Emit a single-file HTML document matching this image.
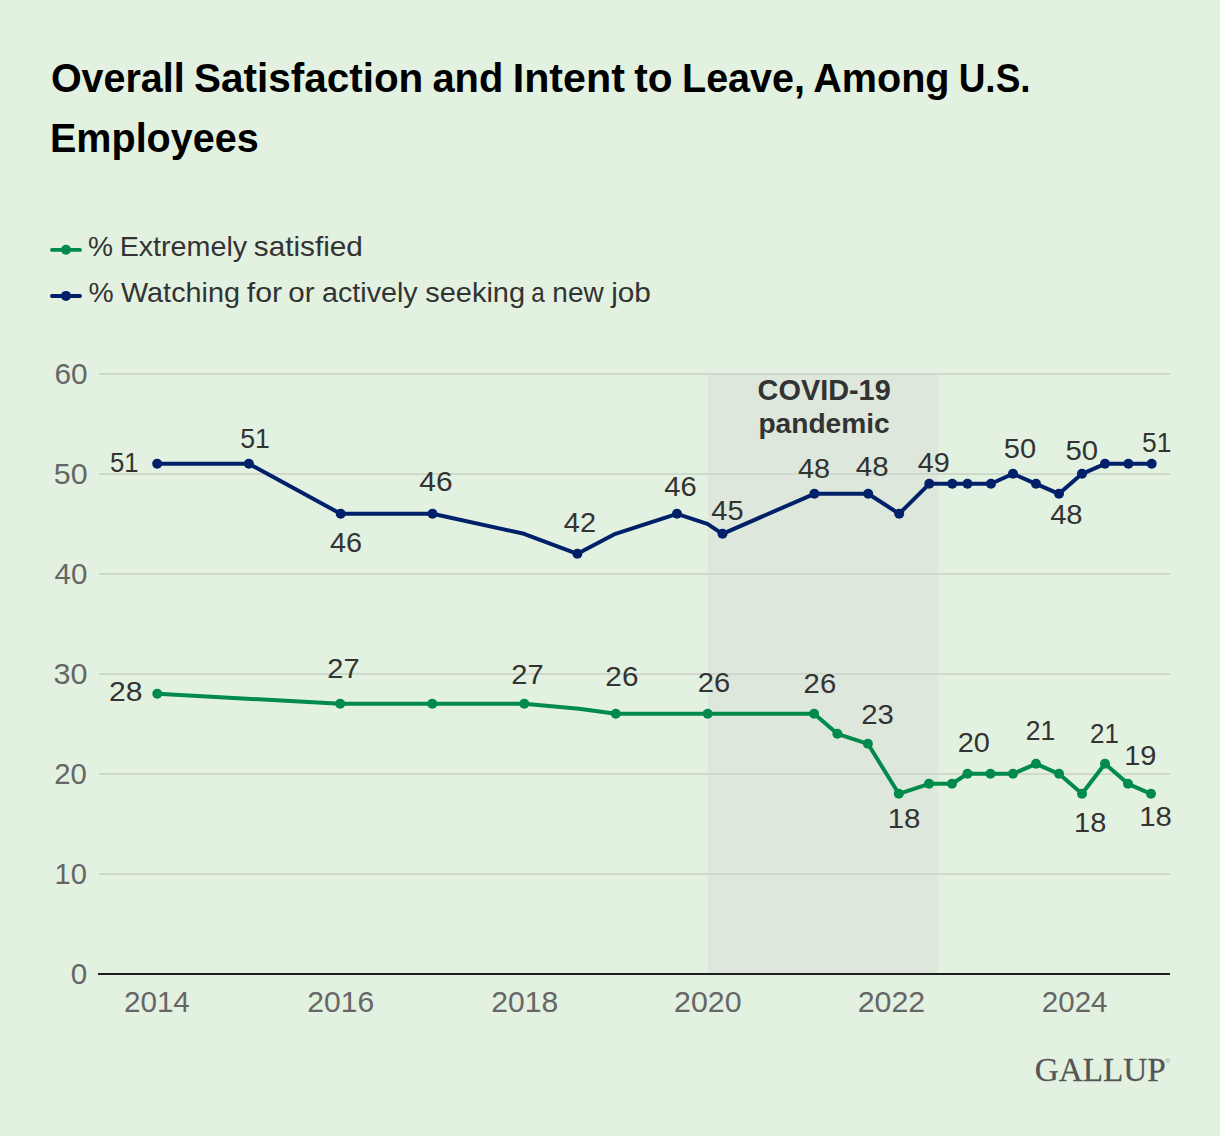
<!DOCTYPE html>
<html><head><meta charset="utf-8"><title>Overall Satisfaction and Intent to Leave</title>
<style>
html,body{margin:0;padding:0;background:#e3f1e0;}
body{width:1220px;height:1136px;overflow:hidden;position:relative;font-family:"Liberation Sans",sans-serif;}
svg{position:absolute;left:0;top:0;}
text{font-family:"Liberation Sans",sans-serif;}
</style></head><body>
<svg width="1220" height="1136" viewBox="0 0 1220 1136">
<rect x="0" y="0" width="1220" height="1136" fill="#e3f1e0"/>

<line x1="52" y1="249.9" x2="80" y2="249.9" stroke="#008a4b" stroke-width="3.9" stroke-linecap="round"/><circle cx="66" cy="249.8" r="5" fill="#008a4b"/>
<line x1="52" y1="296" x2="80" y2="296" stroke="#002169" stroke-width="3.9" stroke-linecap="round"/><circle cx="66" cy="295.9" r="5" fill="#002169"/>
<rect x="708" y="373.8" width="230" height="600" fill="#dde7db"/>
<rect x="99" y="873" width="1071" height="2" fill="#ced9cc"/>
<rect x="99" y="773" width="1071" height="2" fill="#ced9cc"/>
<rect x="99" y="673" width="1071" height="2" fill="#ced9cc"/>
<rect x="99" y="573" width="1071" height="2" fill="#ced9cc"/>
<rect x="99" y="473" width="1071" height="2" fill="#ced9cc"/>
<rect x="99" y="373" width="1071" height="2" fill="#ced9cc"/>
<rect x="98" y="973" width="1072" height="2" fill="#1e1e20"/>
<path d="M157.3,693.8 L340.2,703.8 L432.3,703.8 L524.3,703.8 L579.0,708.8 L615.8,713.8 L707.7,713.8 L814.1,713.8 L837.4,733.8 L867.9,743.8 L898.8,793.8 L929.0,783.8 L952.0,783.8 L967.5,773.8 L990.5,773.8 L1013.0,773.8 L1036.0,763.8 L1059.0,773.8 L1082.0,793.8 L1105.0,763.8 L1128.0,783.8 L1151.0,793.8" fill="none" stroke="#008a4b" stroke-width="4.0" stroke-linejoin="round" stroke-linecap="round"/><circle cx="157.3" cy="693.8" r="5.0" fill="#008a4b"/><circle cx="340.2" cy="703.8" r="5.0" fill="#008a4b"/><circle cx="432.3" cy="703.8" r="5.0" fill="#008a4b"/><circle cx="524.3" cy="703.8" r="5.0" fill="#008a4b"/><circle cx="615.8" cy="713.8" r="5.0" fill="#008a4b"/><circle cx="707.7" cy="713.8" r="5.0" fill="#008a4b"/><circle cx="814.1" cy="713.8" r="5.0" fill="#008a4b"/><circle cx="837.4" cy="733.8" r="5.0" fill="#008a4b"/><circle cx="867.9" cy="743.8" r="5.0" fill="#008a4b"/><circle cx="898.8" cy="793.8" r="5.0" fill="#008a4b"/><circle cx="929.0" cy="783.8" r="5.0" fill="#008a4b"/><circle cx="952.0" cy="783.8" r="5.0" fill="#008a4b"/><circle cx="967.5" cy="773.8" r="5.0" fill="#008a4b"/><circle cx="990.5" cy="773.8" r="5.0" fill="#008a4b"/><circle cx="1013.0" cy="773.8" r="5.0" fill="#008a4b"/><circle cx="1036.0" cy="763.8" r="5.0" fill="#008a4b"/><circle cx="1059.0" cy="773.8" r="5.0" fill="#008a4b"/><circle cx="1082.0" cy="793.8" r="5.0" fill="#008a4b"/><circle cx="1105.0" cy="763.8" r="5.0" fill="#008a4b"/><circle cx="1128.0" cy="783.8" r="5.0" fill="#008a4b"/><circle cx="1151.0" cy="793.8" r="5.0" fill="#008a4b"/>
<path d="M157.2,463.8 L248.9,463.8 L340.7,513.8 L432.5,513.8 L524.0,533.8 L577.4,553.8 L615.4,533.8 L677.0,513.8 L707.4,523.8 L722.5,533.8 L814.4,493.8 L868.2,493.8 L899.2,513.8 L929.3,483.8 L952.3,483.8 L967.5,483.8 L991.0,483.8 L1013.0,473.8 L1036.0,483.8 L1059.0,493.8 L1082.0,473.8 L1105.0,463.8 L1128.4,463.8 L1151.7,463.8" fill="none" stroke="#002169" stroke-width="4.0" stroke-linejoin="round" stroke-linecap="round"/><circle cx="157.2" cy="463.8" r="5.0" fill="#002169"/><circle cx="248.9" cy="463.8" r="5.0" fill="#002169"/><circle cx="340.7" cy="513.8" r="5.0" fill="#002169"/><circle cx="432.5" cy="513.8" r="5.0" fill="#002169"/><circle cx="577.4" cy="553.8" r="5.0" fill="#002169"/><circle cx="677.0" cy="513.8" r="5.0" fill="#002169"/><circle cx="722.5" cy="533.8" r="5.0" fill="#002169"/><circle cx="814.4" cy="493.8" r="5.0" fill="#002169"/><circle cx="868.2" cy="493.8" r="5.0" fill="#002169"/><circle cx="899.2" cy="513.8" r="5.0" fill="#002169"/><circle cx="929.3" cy="483.8" r="5.0" fill="#002169"/><circle cx="952.3" cy="483.8" r="5.0" fill="#002169"/><circle cx="967.5" cy="483.8" r="5.0" fill="#002169"/><circle cx="991.0" cy="483.8" r="5.0" fill="#002169"/><circle cx="1013.0" cy="473.8" r="5.0" fill="#002169"/><circle cx="1036.0" cy="483.8" r="5.0" fill="#002169"/><circle cx="1059.0" cy="493.8" r="5.0" fill="#002169"/><circle cx="1082.0" cy="473.8" r="5.0" fill="#002169"/><circle cx="1105.0" cy="463.8" r="5.0" fill="#002169"/><circle cx="1128.4" cy="463.8" r="5.0" fill="#002169"/><circle cx="1151.7" cy="463.8" r="5.0" fill="#002169"/>
<text x="1165.5" y="1063" font-size="6" fill="#888">®</text>
<text x="124.25" y="472.00" font-size="28.2" fill="#333333" text-anchor="middle" style="font-family:'Liberation Sans',sans-serif" transform="matrix(0.9140 0 0 1.0000 10.77 0.00)">51</text>
<text x="255.00" y="448.00" font-size="28.2" fill="#333333" text-anchor="middle" style="font-family:'Liberation Sans',sans-serif" transform="matrix(0.9461 0 0 1.0000 13.79 0.00)">51</text>
<text x="345.85" y="552.00" font-size="28.2" fill="#333333" text-anchor="middle" style="font-family:'Liberation Sans',sans-serif" transform="matrix(1.0236 0 0 1.0000 -7.98 0.00)">46</text>
<text x="435.65" y="491.00" font-size="28.2" fill="#333333" text-anchor="middle" style="font-family:'Liberation Sans',sans-serif" transform="matrix(1.0633 0 0 1.0000 -27.18 0.00)">46</text>
<text x="579.65" y="532.00" font-size="28.2" fill="#333333" text-anchor="middle" style="font-family:'Liberation Sans',sans-serif" transform="matrix(1.0283 0 0 1.0000 -16.05 0.00)">42</text>
<text x="679.95" y="496.00" font-size="28.2" fill="#333333" text-anchor="middle" style="font-family:'Liberation Sans',sans-serif" transform="matrix(1.0335 0 0 1.0000 -22.22 0.00)">46</text>
<text x="727.35" y="520.00" font-size="28.2" fill="#333333" text-anchor="middle" style="font-family:'Liberation Sans',sans-serif" transform="matrix(1.0297 0 0 1.0000 -21.43 0.00)">45</text>
<text x="813.75" y="478.00" font-size="28.2" fill="#333333" text-anchor="middle" style="font-family:'Liberation Sans',sans-serif" transform="matrix(1.0248 0 0 1.0000 -19.83 0.00)">48</text>
<text x="871.80" y="476.00" font-size="28.2" fill="#333333" text-anchor="middle" style="font-family:'Liberation Sans',sans-serif" transform="matrix(1.0460 0 0 1.0000 -39.61 0.00)">48</text>
<text x="933.40" y="472.00" font-size="28.2" fill="#333333" text-anchor="middle" style="font-family:'Liberation Sans',sans-serif" transform="matrix(1.0202 0 0 1.0000 -18.50 0.00)">49</text>
<text x="1020.15" y="458.00" font-size="28.2" fill="#333333" text-anchor="middle" style="font-family:'Liberation Sans',sans-serif" transform="matrix(1.0330 0 0 1.0000 -33.81 0.00)">50</text>
<text x="1065.85" y="524.00" font-size="28.2" fill="#333333" text-anchor="middle" style="font-family:'Liberation Sans',sans-serif" transform="matrix(1.0360 0 0 1.0000 -37.84 0.00)">48</text>
<text x="1082.15" y="460.00" font-size="28.2" fill="#333333" text-anchor="middle" style="font-family:'Liberation Sans',sans-serif" transform="matrix(1.0399 0 0 1.0000 -43.56 0.00)">50</text>
<text x="1156.55" y="452.00" font-size="28.2" fill="#333333" text-anchor="middle" style="font-family:'Liberation Sans',sans-serif" transform="matrix(0.9366 0 0 1.0000 73.52 0.00)">51</text>
<text x="125.80" y="701.00" font-size="28.2" fill="#333333" text-anchor="middle" style="font-family:'Liberation Sans',sans-serif" transform="matrix(1.0704 0 0 1.0000 -8.84 0.00)">28</text>
<text x="343.45" y="678.00" font-size="28.2" fill="#333333" text-anchor="middle" style="font-family:'Liberation Sans',sans-serif" transform="matrix(1.0307 0 0 1.0000 -10.50 0.00)">27</text>
<text x="527.45" y="684.00" font-size="28.2" fill="#333333" text-anchor="middle" style="font-family:'Liberation Sans',sans-serif" transform="matrix(1.0326 0 0 1.0000 -17.25 0.00)">27</text>
<text x="622.00" y="686.00" font-size="28.2" fill="#333333" text-anchor="middle" style="font-family:'Liberation Sans',sans-serif" transform="matrix(1.0539 0 0 1.0000 -33.61 0.00)">26</text>
<text x="714.00" y="692.00" font-size="28.2" fill="#333333" text-anchor="middle" style="font-family:'Liberation Sans',sans-serif" transform="matrix(1.0333 0 0 1.0000 -23.80 0.00)">26</text>
<text x="819.85" y="693.00" font-size="28.2" fill="#333333" text-anchor="middle" style="font-family:'Liberation Sans',sans-serif" transform="matrix(1.0395 0 0 1.0000 -32.35 0.00)">26</text>
<text x="877.85" y="724.00" font-size="28.2" fill="#333333" text-anchor="middle" style="font-family:'Liberation Sans',sans-serif" transform="matrix(1.0402 0 0 1.0000 -35.67 0.00)">23</text>
<text x="904.60" y="828.00" font-size="28.2" fill="#333333" text-anchor="middle" style="font-family:'Liberation Sans',sans-serif" transform="matrix(1.0444 0 0 1.0000 -40.66 0.00)">18</text>
<text x="974.25" y="752.00" font-size="28.2" fill="#333333" text-anchor="middle" style="font-family:'Liberation Sans',sans-serif" transform="matrix(1.0252 0 0 1.0000 -24.92 0.00)">20</text>
<text x="1040.55" y="740.00" font-size="28.2" fill="#333333" text-anchor="middle" style="font-family:'Liberation Sans',sans-serif" transform="matrix(0.9392 0 0 1.0000 63.30 0.00)">21</text>
<text x="1104.50" y="743.00" font-size="28.2" fill="#333333" text-anchor="middle" style="font-family:'Liberation Sans',sans-serif" transform="matrix(0.9215 0 0 1.0000 86.70 0.00)">21</text>
<text x="1140.35" y="765.00" font-size="28.2" fill="#333333" text-anchor="middle" style="font-family:'Liberation Sans',sans-serif" transform="matrix(1.0289 0 0 1.0000 -33.01 0.00)">19</text>
<text x="1090.55" y="832.00" font-size="28.2" fill="#333333" text-anchor="middle" style="font-family:'Liberation Sans',sans-serif" transform="matrix(1.0285 0 0 1.0000 -31.37 0.00)">18</text>
<text x="1155.90" y="826.00" font-size="28.2" fill="#333333" text-anchor="middle" style="font-family:'Liberation Sans',sans-serif" transform="matrix(1.0411 0 0 1.0000 -47.78 0.00)">18</text>
<text x="86.20" y="984.20" font-size="29.6" fill="#666666" text-anchor="end" style="font-family:'Liberation Sans',sans-serif" transform="matrix(1.0004 0 0 1.0000 1.00 0.00)">0</text>
<text x="86.20" y="884.20" font-size="29.6" fill="#666666" text-anchor="end" style="font-family:'Liberation Sans',sans-serif" transform="matrix(0.9818 0 0 1.0000 2.21 0.00)">10</text>
<text x="86.20" y="784.20" font-size="29.6" fill="#666666" text-anchor="end" style="font-family:'Liberation Sans',sans-serif" transform="matrix(0.9893 0 0 1.0000 1.61 0.00)">20</text>
<text x="86.20" y="684.20" font-size="29.6" fill="#666666" text-anchor="end" style="font-family:'Liberation Sans',sans-serif" transform="matrix(1.0328 0 0 1.0000 -1.53 0.00)">30</text>
<text x="86.20" y="584.20" font-size="29.6" fill="#666666" text-anchor="end" style="font-family:'Liberation Sans',sans-serif" transform="matrix(0.9953 0 0 1.0000 1.56 0.00)">40</text>
<text x="86.20" y="484.20" font-size="29.6" fill="#666666" text-anchor="end" style="font-family:'Liberation Sans',sans-serif" transform="matrix(1.0280 0 0 1.0000 -0.93 0.00)">50</text>
<text x="86.20" y="384.20" font-size="29.6" fill="#666666" text-anchor="end" style="font-family:'Liberation Sans',sans-serif" transform="matrix(1.0079 0 0 1.0000 0.70 0.00)">60</text>
<text x="157.15" y="1012.20" font-size="29.6" fill="#666666" text-anchor="middle" style="font-family:'Liberation Sans',sans-serif" transform="matrix(1.0016 0 0 1.0000 -0.51 0.00)">2014</text>
<text x="340.65" y="1012.20" font-size="29.6" fill="#666666" text-anchor="middle" style="font-family:'Liberation Sans',sans-serif" transform="matrix(1.0166 0 0 1.0000 -5.62 0.00)">2016</text>
<text x="524.65" y="1012.20" font-size="29.6" fill="#666666" text-anchor="middle" style="font-family:'Liberation Sans',sans-serif" transform="matrix(1.0163 0 0 1.0000 -8.42 0.00)">2018</text>
<text x="707.95" y="1012.20" font-size="29.6" fill="#666666" text-anchor="middle" style="font-family:'Liberation Sans',sans-serif" transform="matrix(1.0247 0 0 1.0000 -17.59 0.00)">2020</text>
<text x="891.50" y="1012.20" font-size="29.6" fill="#666666" text-anchor="middle" style="font-family:'Liberation Sans',sans-serif" transform="matrix(1.0262 0 0 1.0000 -23.38 0.00)">2022</text>
<text x="1075.00" y="1012.20" font-size="29.6" fill="#666666" text-anchor="middle" style="font-family:'Liberation Sans',sans-serif" transform="matrix(0.9974 0 0 1.0000 2.49 0.00)">2024</text>
<text x="51.90" y="92.00" font-size="41.5" font-weight="bold" fill="#000" text-anchor="start" style="font-family:'Liberation Sans',sans-serif" transform="matrix(0.9512 0 0 1.0000 1.54 0.00)">Overall</text>
<text x="195.10" y="92.00" font-size="41.5" font-weight="bold" fill="#000" text-anchor="start" style="font-family:'Liberation Sans',sans-serif" transform="matrix(0.9757 0 0 1.0000 3.56 0.00)">Satisfaction</text>
<text x="433.30" y="92.00" font-size="41.5" font-weight="bold" fill="#000" text-anchor="start" style="font-family:'Liberation Sans',sans-serif" transform="matrix(0.9610 0 0 1.0000 16.03 0.00)">and</text>
<text x="514.90" y="92.00" font-size="41.5" font-weight="bold" fill="#000" text-anchor="start" style="font-family:'Liberation Sans',sans-serif" transform="matrix(0.9934 0 0 1.0000 1.21 0.00)">Intent</text>
<text x="634.30" y="92.00" font-size="41.5" font-weight="bold" fill="#000" text-anchor="start" style="font-family:'Liberation Sans',sans-serif" transform="matrix(0.9776 0 0 1.0000 14.10 0.00)">to</text>
<text x="684.30" y="92.00" font-size="41.5" font-weight="bold" fill="#000" text-anchor="start" style="font-family:'Liberation Sans',sans-serif" transform="matrix(0.9529 0 0 1.0000 29.93 0.00)">Leave,</text>
<text x="813.80" y="92.00" font-size="41.5" font-weight="bold" fill="#000" text-anchor="start" style="font-family:'Liberation Sans',sans-serif" transform="matrix(0.9545 0 0 1.0000 36.43 0.00)">Among</text>
<text x="960.70" y="92.00" font-size="41.5" font-weight="bold" fill="#000" text-anchor="start" style="font-family:'Liberation Sans',sans-serif" transform="matrix(0.8906 0 0 1.0000 103.10 0.00)">U.S.</text>
<text x="52.00" y="152.30" font-size="41.5" font-weight="bold" fill="#000" text-anchor="start" style="font-family:'Liberation Sans',sans-serif" transform="matrix(0.9528 0 0 1.0000 0.44 0.00)">Employees</text>
<text x="88.90" y="256.20" font-size="27.6" fill="#333333" text-anchor="start" style="font-family:'Liberation Sans',sans-serif" transform="matrix(1.0174 0 0 1.0000 -2.40 0.00)">%</text>
<text x="121.70" y="256.20" font-size="27.6" fill="#333333" text-anchor="start" style="font-family:'Liberation Sans',sans-serif" transform="matrix(1.0398 0 0 1.0000 -6.91 0.00)">Extremely</text>
<text x="254.80" y="256.20" font-size="27.6" fill="#333333" text-anchor="start" style="font-family:'Liberation Sans',sans-serif" transform="matrix(1.0779 0 0 1.0000 -20.88 0.00)">satisfied</text>
<text x="89.00" y="301.80" font-size="27.6" fill="#333333" text-anchor="start" style="font-family:'Liberation Sans',sans-serif" transform="matrix(1.0268 0 0 1.0000 -2.89 0.00)">%</text>
<text x="121.00" y="301.80" font-size="27.6" fill="#333333" text-anchor="start" style="font-family:'Liberation Sans',sans-serif" transform="matrix(1.0442 0 0 1.0000 -5.35 0.00)">Watching</text>
<text x="246.80" y="301.80" font-size="27.6" fill="#333333" text-anchor="start" style="font-family:'Liberation Sans',sans-serif" transform="matrix(1.1002 0 0 1.0000 -24.77 0.00)">for</text>
<text x="289.30" y="301.80" font-size="27.6" fill="#333333" text-anchor="start" style="font-family:'Liberation Sans',sans-serif" transform="matrix(1.0705 0 0 1.0000 -21.38 0.00)">or</text>
<text x="322.60" y="301.80" font-size="27.6" fill="#333333" text-anchor="start" style="font-family:'Liberation Sans',sans-serif" transform="matrix(1.0407 0 0 1.0000 -13.76 0.00)">actively</text>
<text x="426.20" y="301.80" font-size="27.6" fill="#333333" text-anchor="start" style="font-family:'Liberation Sans',sans-serif" transform="matrix(1.0495 0 0 1.0000 -22.04 0.00)">seeking</text>
<text x="532.20" y="301.80" font-size="27.6" fill="#333333" text-anchor="start" style="font-family:'Liberation Sans',sans-serif" transform="matrix(0.8819 0 0 1.0000 61.98 0.00)">a</text>
<text x="554.20" y="301.80" font-size="27.6" fill="#333333" text-anchor="start" style="font-family:'Liberation Sans',sans-serif" transform="matrix(1.0152 0 0 1.0000 -10.26 0.00)">new</text>
<text x="609.80" y="301.80" font-size="27.6" fill="#333333" text-anchor="start" style="font-family:'Liberation Sans',sans-serif" transform="matrix(1.0800 0 0 1.0000 -47.44 0.00)">job</text>
<text x="824.30" y="400.20" font-size="30.2" font-weight="bold" fill="#333333" text-anchor="middle" style="font-family:'Liberation Sans',sans-serif" transform="matrix(0.9558 0 0 1.0000 36.29 0.00)">COVID-19</text>
<text x="824.50" y="433.50" font-size="28" font-weight="bold" fill="#333333" text-anchor="middle" style="font-family:'Liberation Sans',sans-serif" transform="matrix(1.0052 0 0 1.0000 -4.71 0.00)">pandemic</text>
<text x="1036.00" y="1081.30" font-size="34.3" stroke="#555555" stroke-width="0.25" fill="#555555" text-anchor="start" style="font-family:'Liberation Serif',serif" transform="matrix(0.9699 0 0 1.0000 29.90 0.00)">GALLUP</text>
</svg></body></html>
